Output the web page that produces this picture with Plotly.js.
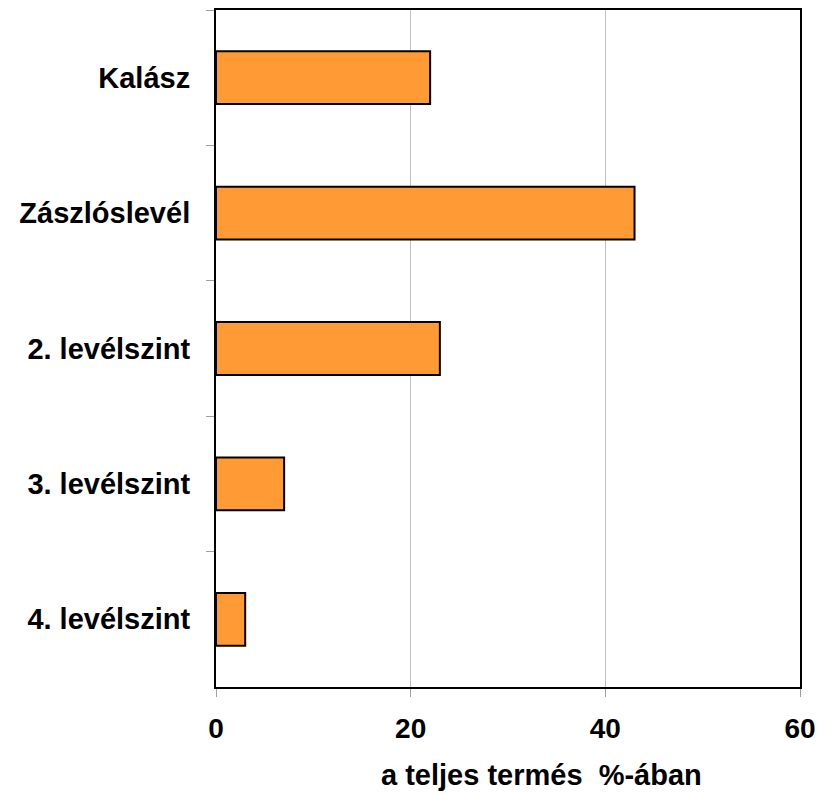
<!DOCTYPE html>
<html>
<head>
<meta charset="utf-8">
<script src="https://cdn.plot.ly/plotly-3.0.1.min.js"></script>
<style>html,body{margin:0;padding:0;background:#fff;}#chart{width:825px;height:795px;}</style>
</head>
<body>
<div id="chart"></div>
<script>
const categories = ["Kalász", "Zászlóslevél", "2. levélszint", "3. levélszint", "4. levélszint"];
const values = [22, 43, 23, 7, 3];
const xTickVals = [0, 20, 40, 60];
const xTitle = "a teljes termés \u00a0%-ában";

const fam = "Liberation Sans, Arial, sans-serif";

Plotly.newPlot("chart", [{
  type: "bar",
  orientation: "h",
  y: categories,
  x: values,
  width: 0.39,
  marker: {color: "#FF9A35", line: {color: "#000", width: 2}},
  hoverinfo: "skip"
}], {
  width: 825, height: 795,
  margin: {l: 216, r: 25, t: 10, b: 108},
  paper_bgcolor: "#fff", plot_bgcolor: "#fff",
  showlegend: false,
  font: {family: fam, size: 22, color: "#000"},
  xaxis: {
    range: [0, 60],
    tickvals: xTickVals,
    ticktext: xTickVals.map(String),
    showgrid: true, gridcolor: "#c0c0c0", gridwidth: 1,
    zeroline: false,
    showline: true, linecolor: "#000", linewidth: 2, mirror: true,
    ticks: "outside", ticklen: 8, tickcolor: "#a0a0a0", tickwidth: 1,
    tickfont: {family: fam, size: 28, color: "#000", weight: "bold"},
    ticklabelstandoff: 7,
    fixedrange: true
  },
  yaxis: {
    type: "category",
    autorange: "reversed",
    tickson: "boundaries",
    showgrid: false,
    showline: true, linecolor: "#000", linewidth: 2, mirror: true,
    ticks: "outside", ticklen: 8, tickcolor: "#a0a0a0", tickwidth: 1,
    tickfont: {family: fam, size: 29, color: "#000", weight: "bold"},
    ticklabelstandoff: 18,
    fixedrange: true
  },
  annotations: [{
    text: xTitle,
    xref: "paper", yref: "paper",
    x: 0.557, y: 0, yshift: -88,
    xanchor: "center", yanchor: "middle",
    showarrow: false,
    font: {family: fam, size: 29, color: "#000", weight: "bold"}
  }]
}, {staticPlot: true});
</script>
</body>
</html>
